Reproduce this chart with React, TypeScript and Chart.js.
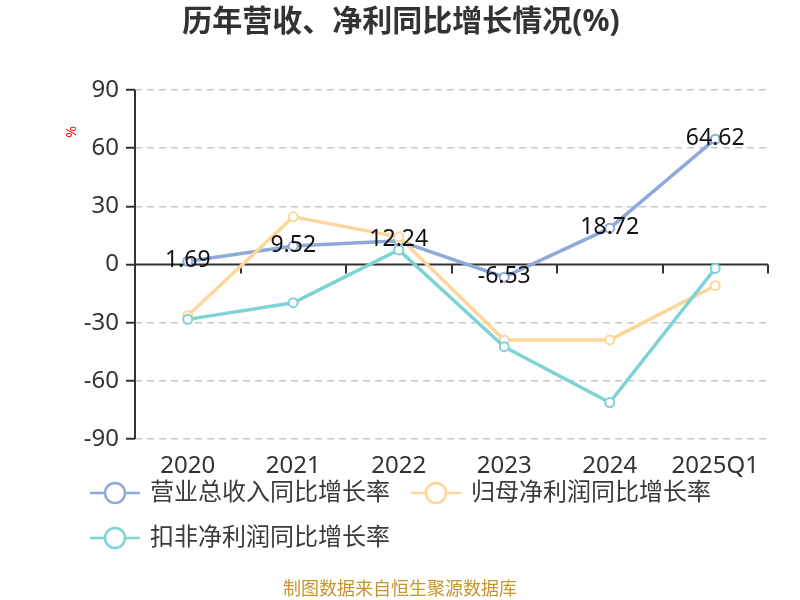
import React, { useEffect, useRef } from "react";
import { Chart, registerables } from "chart.js";

Chart.register(...registerables);

const categories = ["2020", "2021", "2022", "2023", "2024", "2025Q1"];
const revenueGrowth = [1.69, 9.52, 12.24, -6.53, 18.72, 64.62];
const netProfitGrowth = [-26.4, 24.6, 14.3, -38.9, -38.9, -10.9];
const deductedProfitGrowth = [-28.3, -19.7, 7.5, -42.4, -71.2, -2.0];
const seriesNames = ["营业总收入同比增长率", "归母净利润同比增长率", "扣非净利润同比增长率"];
const seriesColors = ["#8eaadb", "#ffd699", "#7ed3d5"];
const yMin = -90;
const yMax = 90;
const yStep = 30;
const titleText = "历年营收、净利同比增长情况(%)";
const footerText = "制图数据来自恒生聚源数据库";
const yUnit = "%";

const FONT = "'Noto Sans', 'Noto Sans CJK SC', sans-serif";

const overlayPlugin = {
  id: "overlay",
  beforeDatasetsDraw(chart: any) {
    const { ctx, chartArea, scales } = chart;
    const x = scales.x;
    const y = scales.y;
    const y0 = y.getPixelForValue(0);
    ctx.save();
    ctx.setLineDash([]);
    ctx.strokeStyle = "#333";
    ctx.lineWidth = 2;
    // y axis line
    ctx.beginPath();
    ctx.moveTo(chartArea.left, chartArea.top);
    ctx.lineTo(chartArea.left, chartArea.bottom);
    ctx.stroke();
    // zero line
    ctx.beginPath();
    ctx.moveTo(chartArea.left, y0);
    ctx.lineTo(chartArea.right, y0);
    ctx.stroke();
    const half = (x.getPixelForValue(1) - x.getPixelForValue(0)) / 2;
    for (let i = 0; i < categories.length; i++) {
      const bx = Math.round(x.getPixelForValue(i) + half);
      ctx.beginPath();
      ctx.moveTo(bx, y0);
      ctx.lineTo(bx, y0 + 9);
      ctx.stroke();
    }
    ctx.restore();
  },
  afterDatasetsDraw(chart: any) {
    const { ctx } = chart;
    const meta = chart.getDatasetMeta(0);
    ctx.save();
    ctx.font = `23px ${FONT}`;
    ctx.fillStyle = "#111";
    ctx.textAlign = "center";
    ctx.textBaseline = "middle";
    meta.data.forEach((pt: any, i: number) => {
      ctx.fillText(revenueGrowth[i].toFixed(2), pt.x, pt.y - 1);
    });
    ctx.restore();
  },
  afterDraw(chart: any) {
    const { ctx } = chart;
    ctx.save();
    // title
    ctx.font = `bold 30px ${FONT}`;
    ctx.fillStyle = "#333";
    ctx.textAlign = "center";
    ctx.textBaseline = "middle";
    ctx.fillText(titleText, 401, 22);
    // unit label
    ctx.save();
    ctx.translate(72, 132);
    ctx.rotate(-Math.PI / 2);
    ctx.font = `14px ${FONT}`;
    ctx.fillStyle = "#ff0000";
    ctx.fillText(yUnit, 0, 0);
    ctx.restore();
    // legend
    ctx.font = `24px ${FONT}`;
    ctx.textAlign = "left";
    const rows = [[0, 1], [2]];
    const rowY = [493, 538];
    rows.forEach((row, r) => {
      let cx = 90;
      const cy = rowY[r];
      row.forEach((si) => {
        const col = seriesColors[si];
        ctx.strokeStyle = col;
        ctx.lineWidth = 2.5;
        ctx.beginPath();
        ctx.moveTo(cx, cy);
        ctx.lineTo(cx + 50, cy);
        ctx.stroke();
        ctx.beginPath();
        ctx.arc(cx + 25, cy, 10, 0, Math.PI * 2);
        ctx.fillStyle = "#fff";
        ctx.fill();
        ctx.stroke();
        ctx.fillStyle = "#3a3a3a";
        ctx.fillText(seriesNames[si], cx + 60, cy);
        const w = ctx.measureText(seriesNames[si]).width;
        cx = cx + 60 + w + 21;
      });
    });
    // footer
    ctx.font = `18px ${FONT}`;
    ctx.fillStyle = "#c8942c";
    ctx.textAlign = "center";
    ctx.fillText(footerText, 400, 590);
    ctx.restore();
  },
};

export default function App() {
  const ref = useRef<HTMLCanvasElement>(null);
  useEffect(() => {
    document.body.style.margin = "0";
    const canvas = ref.current!;
    const data = [revenueGrowth, netProfitGrowth, deductedProfitGrowth];
    const chart = new Chart(canvas, {
      type: "line",
      data: {
        labels: categories,
        datasets: data.map((d, i) => ({
          label: seriesNames[i],
          data: d,
          borderColor: seriesColors[i],
          backgroundColor: "#fff",
          pointBackgroundColor: "#fff",
          pointBorderColor: seriesColors[i],
          pointBorderWidth: 2,
          pointRadius: 4.5,
          borderWidth: 3.5,
          tension: 0,
          order: 3 - i,
        })),
      },
      options: {
        responsive: false,
        animation: false,
        devicePixelRatio: 1,
        layout: { padding: { left: 0, top: 90, right: 32, bottom: 121 } },
        plugins: {
          legend: { display: false },
          title: { display: false },
          tooltip: { enabled: false },
        },
        scales: {
          x: {
            type: "category",
            offset: true,
            grid: { display: false },
            border: { display: false },
            ticks: {
              color: "#333",
              font: { size: 24, family: FONT },
              padding: 5,
              maxRotation: 0,
              autoSkip: false,
            },
            afterFit(scale: any) {
              scale.height = 40;
            },
          },
          y: {
            min: yMin,
            max: yMax,
            ticks: {
              stepSize: yStep,
              color: "#333",
              font: { size: 24, family: FONT },
              padding: 7,
            },
            grid: {
              color: (c: any) => (c.tick && c.tick.value === 0 ? "rgba(0,0,0,0)" : "#c8c8c8"),
              lineWidth: 1.5,
              drawTicks: true,
              tickLength: 9,
              tickColor: "#333",
              tickWidth: 2,
              tickBorderDash: [],
            },
            border: { display: false, dash: [7, 5] },
            afterFit(scale: any) {
              scale.width = 135;
            },
          },
        },
      },
      plugins: [overlayPlugin],
    });
    return () => chart.destroy();
  }, []);
  return (
    <div style={{ position: "absolute", left: 0, top: 0, width: 800, height: 600, background: "#fff" }}>
      <canvas ref={ref} width={800} height={600} />
    </div>
  );
}
